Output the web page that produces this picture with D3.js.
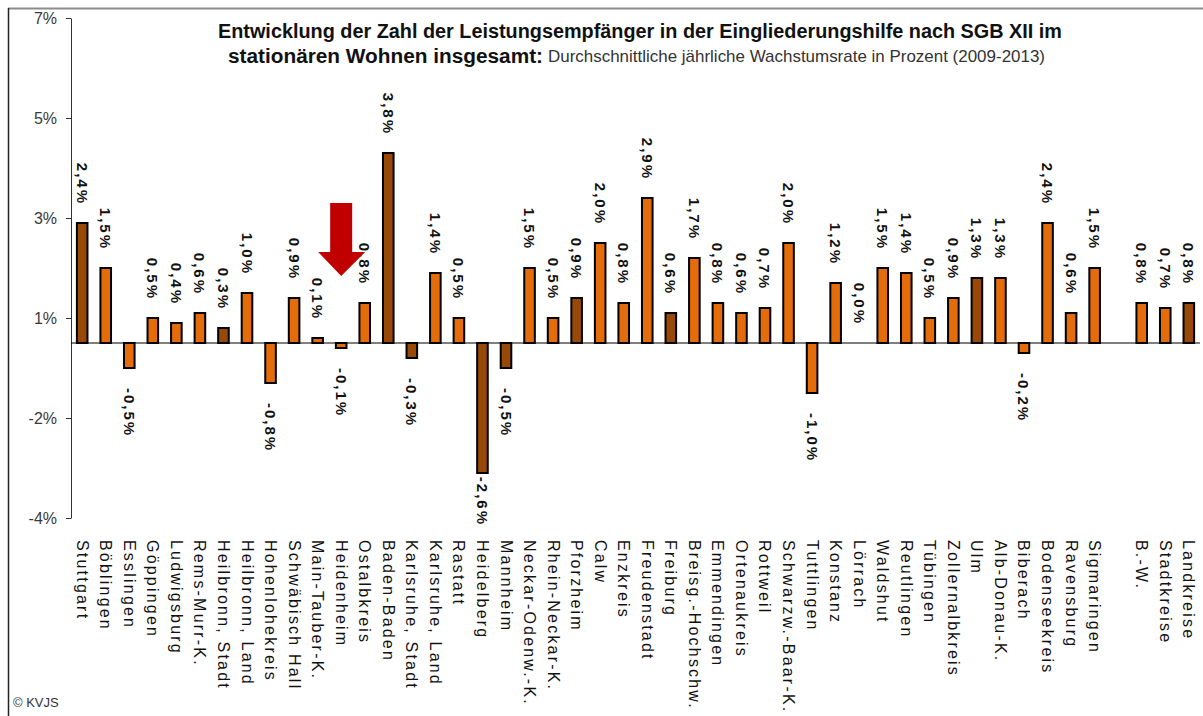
<!DOCTYPE html>
<html>
<head>
<meta charset="utf-8">
<script src="https://cdn.jsdelivr.net/npm/d3@7"></script>
<style>
  html, body { margin: 0; padding: 0; background: #fff; }
  svg { display: block; font-family: "Liberation Sans", Arial, sans-serif; }
</style>
</head>
<body>
<svg id="chart" width="1203" height="716"></svg>
<script>
// Kreise in Baden-Württemberg, Wachstumsrate 2009-2013 in %
const categories = [
  "Stuttgart", "Böblingen", "Esslingen", "Göppingen", "Ludwigsburg", "Rems-Murr-K.",
  "Heilbronn, Stadt", "Heilbronn, Land", "Hohenlohekreis", "Schwäbisch Hall", "Main-Tauber-K.",
  "Heidenheim", "Ostalbkreis", "Baden-Baden", "Karlsruhe, Stadt", "Karlsruhe, Land", "Rastatt",
  "Heidelberg", "Mannheim", "Neckar-Odenw.-K.", "Rhein-Neckar-K.", "Pforzheim", "Calw", "Enzkreis",
  "Freudenstadt", "Freiburg", "Breisg.-Hochschw.", "Emmendingen", "Ortenaukreis", "Rottweil",
  "Schwarzw.-Baar-K.", "Tuttlingen", "Konstanz", "Lörrach", "Waldshut", "Reutlingen", "Tübingen",
  "Zollernalbkreis", "Ulm", "Alb-Donau-K.", "Biberach", "Bodenseekreis", "Ravensburg", "Sigmaringen",
  "B.-W.", "Stadtkreise", "Landkreise"
];
const values = [
  2.4, 1.5, -0.5, 0.5, 0.4, 0.6,
  0.3, 1.0, -0.8, 0.9, 0.1,
  -0.1, 0.8, 3.8, -0.3, 1.4, 0.5,
  -2.6, -0.5, 1.5, 0.5, 0.9, 2.0, 0.8,
  2.9, 0.6, 1.7, 0.8, 0.6, 0.7,
  2.0, -1.0, 1.2, 0.0, 1.5, 1.4, 0.5,
  0.9, 1.3, 1.3, -0.2, 2.4, 0.6, 1.5,
  0.8, 0.7, 0.8
];
// Stadtkreise (dunkel) vs. Landkreise (hell)
const stadtkreis = [
  "Stuttgart", "Heilbronn, Stadt", "Baden-Baden", "Karlsruhe, Stadt", "Heidelberg",
  "Mannheim", "Pforzheim", "Freiburg", "Ulm", "Landkreise"
];
const gapAfter = "Sigmaringen";
const tickValues = [-3.5, -1.5, 0.5, 2.5, 4.5, 6.5];
const tickLabels = ["-4%", "-2%", "1%", "3%", "5%", "7%"];
const highlight = "Heidenheim";

const data = categories.map((c, i) => ({ name: c, value: values[i] }));

const svg = d3.select("#chart");

// frame
svg.append("line").attr("x1", 8).attr("x2", 1203).attr("y1", 8.5).attr("y2", 8.5)
  .attr("stroke", "#8c8c8c").attr("stroke-width", 2);
svg.append("line").attr("x1", 8.5).attr("x2", 8.5).attr("y1", 8).attr("y2", 716)
  .attr("stroke", "#222").attr("stroke-width", 1.5);

// scales
const slots = [];
categories.forEach(c => {
  slots.push(c);
  if (c === gapAfter) slots.push("__gap");
});

const x = d3.scaleBand()
  .domain(slots)
  .range([71, 1200])
  .paddingInner(0.55)
  .paddingOuter(0.25);

const y = d3.scaleLinear()
  .domain([-3.5, 6.5])
  .range([518, 18]);

// y axis
const yAxis = svg.append("g")
  .attr("transform", "translate(71,0)")
  .call(d3.axisLeft(y)
    .tickValues(tickValues)
    .tickFormat((d, i) => tickLabels[i])
    .tickSizeInner(5)
    .tickSizeOuter(0)
    .tickPadding(9));
yAxis.select(".domain").attr("stroke", "#333");
yAxis.selectAll(".tick line").attr("stroke", "#333");
yAxis.selectAll("text")
  .style("font-size", "16px")
  .style("font-family", "Liberation Sans, Arial, sans-serif")
  .attr("fill", "#3a3a3a");

// bars
svg.selectAll(".bar")
  .data(data)
  .enter()
  .append("rect")
  .attr("class", "bar")
  .attr("x", d => x(d.name))
  .attr("y", d => Math.min(y(d.value), y(0)))
  .attr("width", x.bandwidth())
  .attr("height", d => Math.abs(y(d.value) - y(0)))
  .attr("fill", d => stadtkreis.includes(d.name) ? "#984807" : "#E46C0A")
  .attr("stroke", "#000")
  .attr("stroke-width", 2);

// zero line
svg.append("line")
  .attr("x1", 71).attr("x2", 1200)
  .attr("y1", y(0)).attr("y2", y(0))
  .attr("stroke", "#000").attr("stroke-width", 1.2);

// value labels (rotated, reading downwards)
const fmt = v => v.toFixed(1).replace(".", ",") + "%";
svg.selectAll(".label")
  .data(data)
  .enter()
  .append("text")
  .attr("class", "label")
  .style("font-size", "15px")
  .style("font-weight", "bold")
  .style("letter-spacing", "2px")
  .attr("fill", "#111")
  .attr("dominant-baseline", "central")
  .attr("text-anchor", d => d.value >= 0 ? "end" : "start")
  .text(d => fmt(d.value))
  .each(function (d) {
    const cx = x(d.name) + x.bandwidth() / 2;
    let py;
    if (d.value >= 0) {
      py = y(d.value) - 18;
    } else {
      const len = this.getComputedTextLength();
      py = Math.min(y(d.value) + 20, 526 - len);
    }
    d3.select(this).attr("transform", `translate(${cx},${py}) rotate(90)`);
  });

// category labels
svg.selectAll(".cat")
  .data(data)
  .enter()
  .append("text")
  .attr("class", "cat")
  .style("font-size", "16px")
  .style("letter-spacing", "2.2px")
  .attr("fill", "#111")
  .attr("dominant-baseline", "central")
  .attr("text-anchor", "start")
  .attr("transform", d => `translate(${x(d.name) + x.bandwidth() / 2},540) rotate(90)`)
  .text(d => d.name);

// red arrow pointing at highlighted district
const ax = x(highlight) + x.bandwidth() / 2;
svg.append("path")
  .attr("d", `M${ax - 11},203 L${ax + 11},203 L${ax + 11},252 L${ax + 24},252 L${ax},276 L${ax - 23},252 L${ax - 11},252 Z`)
  .attr("fill", "#C00000");

// title
svg.append("text")
  .attr("x", 218).attr("y", 38)
  .attr("textLength", 844).attr("lengthAdjust", "spacingAndGlyphs")
  .style("font-size", "20px").style("font-weight", "bold")
  .attr("fill", "#111")
  .text("Entwicklung der Zahl der Leistungsempfänger in der Eingliederungshilfe nach SGB XII im");
svg.append("text")
  .attr("x", 228).attr("y", 63)
  .attr("textLength", 315).attr("lengthAdjust", "spacingAndGlyphs")
  .style("font-size", "20px").style("font-weight", "bold")
  .attr("fill", "#111")
  .text("stationären Wohnen insgesamt:");
svg.append("text")
  .attr("x", 548).attr("y", 62)
  .attr("textLength", 497).attr("lengthAdjust", "spacingAndGlyphs")
  .style("font-size", "17px")
  .attr("fill", "#333")
  .text("Durchschnittliche jährliche Wachstumsrate in Prozent (2009-2013)");

// source
svg.append("text")
  .attr("x", 13).attr("y", 707)
  .style("font-size", "13px")
  .attr("fill", "#333")
  .text("© KVJS");
</script>
</body>
</html>
